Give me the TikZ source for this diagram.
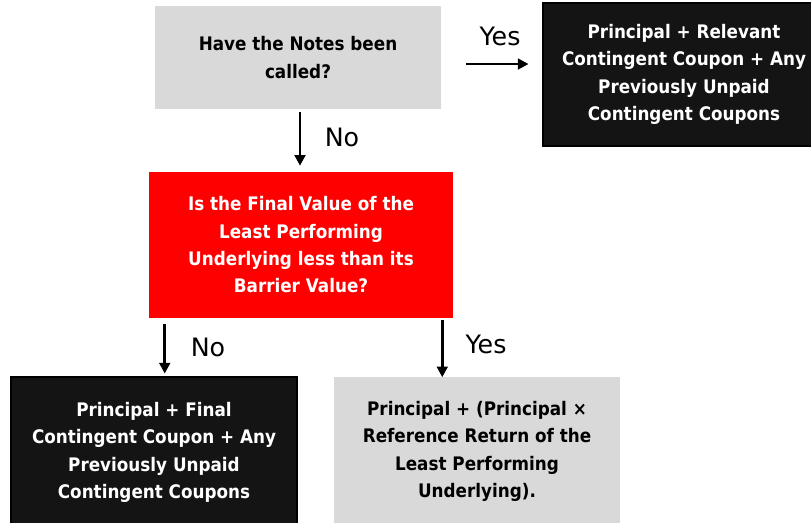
\documentclass[tikz,border=0pt]{standalone}
\usepackage{fontspec}
\setmainfont{DejaVu Sans}
\newfontfamily\boxfont{DejaVu Sans}[FakeStretch=0.9]
\usetikzlibrary{arrows.meta,calc}
\definecolor{boxgray}{HTML}{D9D9D9}
\definecolor{boxred}{HTML}{FF0000}
\definecolor{boxblack}{HTML}{141414}
\tikzset{
  px/.style={x=0.75pt,y=-0.75pt},
  base box/.style={rectangle,inner sep=0pt,align=center,
    font=\boxfont\bfseries\fontsize{14pt}{20.5pt}\selectfont},
  graybox/.style={base box,fill=boxgray,text=black},
  redbox/.style={base box,fill=boxred,text=white},
  blackbox/.style={base box,fill=boxblack,draw=black,line width=2.2pt,text=white},
  arr/.style={line width=2.1pt,-{Triangle[length=8pt,width=8pt]}},
  lbl/.style={inner sep=0pt,anchor=base,font=\fontsize{19pt}{21pt}\selectfont}
}
\begin{document}
\begin{tikzpicture}[px]
\useasboundingbox (0,0) rectangle (811,523);
\fill[white] (0,0) rectangle (811,523);
% nodes
\node[graybox,minimum width=214.5pt,minimum height=77.25pt] (q1) at (298,57.5)
  {Have the Notes been\\called?};
\node[blackbox,minimum width=211.5pt,minimum height=107.25pt] (r1) at (684,74.5)
  {Principal + Relevant\\Contingent Coupon + Any\\Previously Unpaid\\Contingent Coupons};
\node[redbox,minimum width=228pt,minimum height=109.5pt] (q2) at (301,245)
  {Is the Final Value of the\\Least Performing\\Underlying less than its\\Barrier Value?};
\node[blackbox,minimum width=214.5pt,minimum height=113.25pt] (r2) at (154,452.5)
  {Principal + Final\\Contingent Coupon + Any\\Previously Unpaid\\Contingent Coupons};
\node[graybox,minimum width=214.5pt,minimum height=111pt] (r3) at (477,451.5)
  {Principal + (Principal ×\\Reference Return of the\\Least Performing\\Underlying).};
% connectors
\draw[arr,shorten <=18.75pt,shorten >=9.75pt] ([yshift=-4.9pt]q1.east) -- ([yshift=-4.9pt]q1.east -| r1.west);
\draw[arr,shorten <=2.25pt,shorten >=4.5pt] ([xshift=1.5pt]q1.south) -- ([xshift=1.5pt]q1.south |- q2.north);
\draw[arr,shorten <=4.5pt,shorten >=1.5pt] ([xshift=12pt]q2.south west) -- ([xshift=12pt]q2.south west |- r2.north);
\draw[arr,shorten <=1.5pt,shorten >=0pt] ([xshift=-8.25pt]q2.south east) -- ([xshift=-8.25pt]q2.south east |- r3.north);
% labels
\node[lbl] (y1) at (500,46) {Yes};
\node[lbl] (n1) at (342,147) {No};
\node[lbl] (n2) at (208,357) {No};
\node[lbl] (y2) at (486,354) {Yes};
\end{tikzpicture}
\end{document}
